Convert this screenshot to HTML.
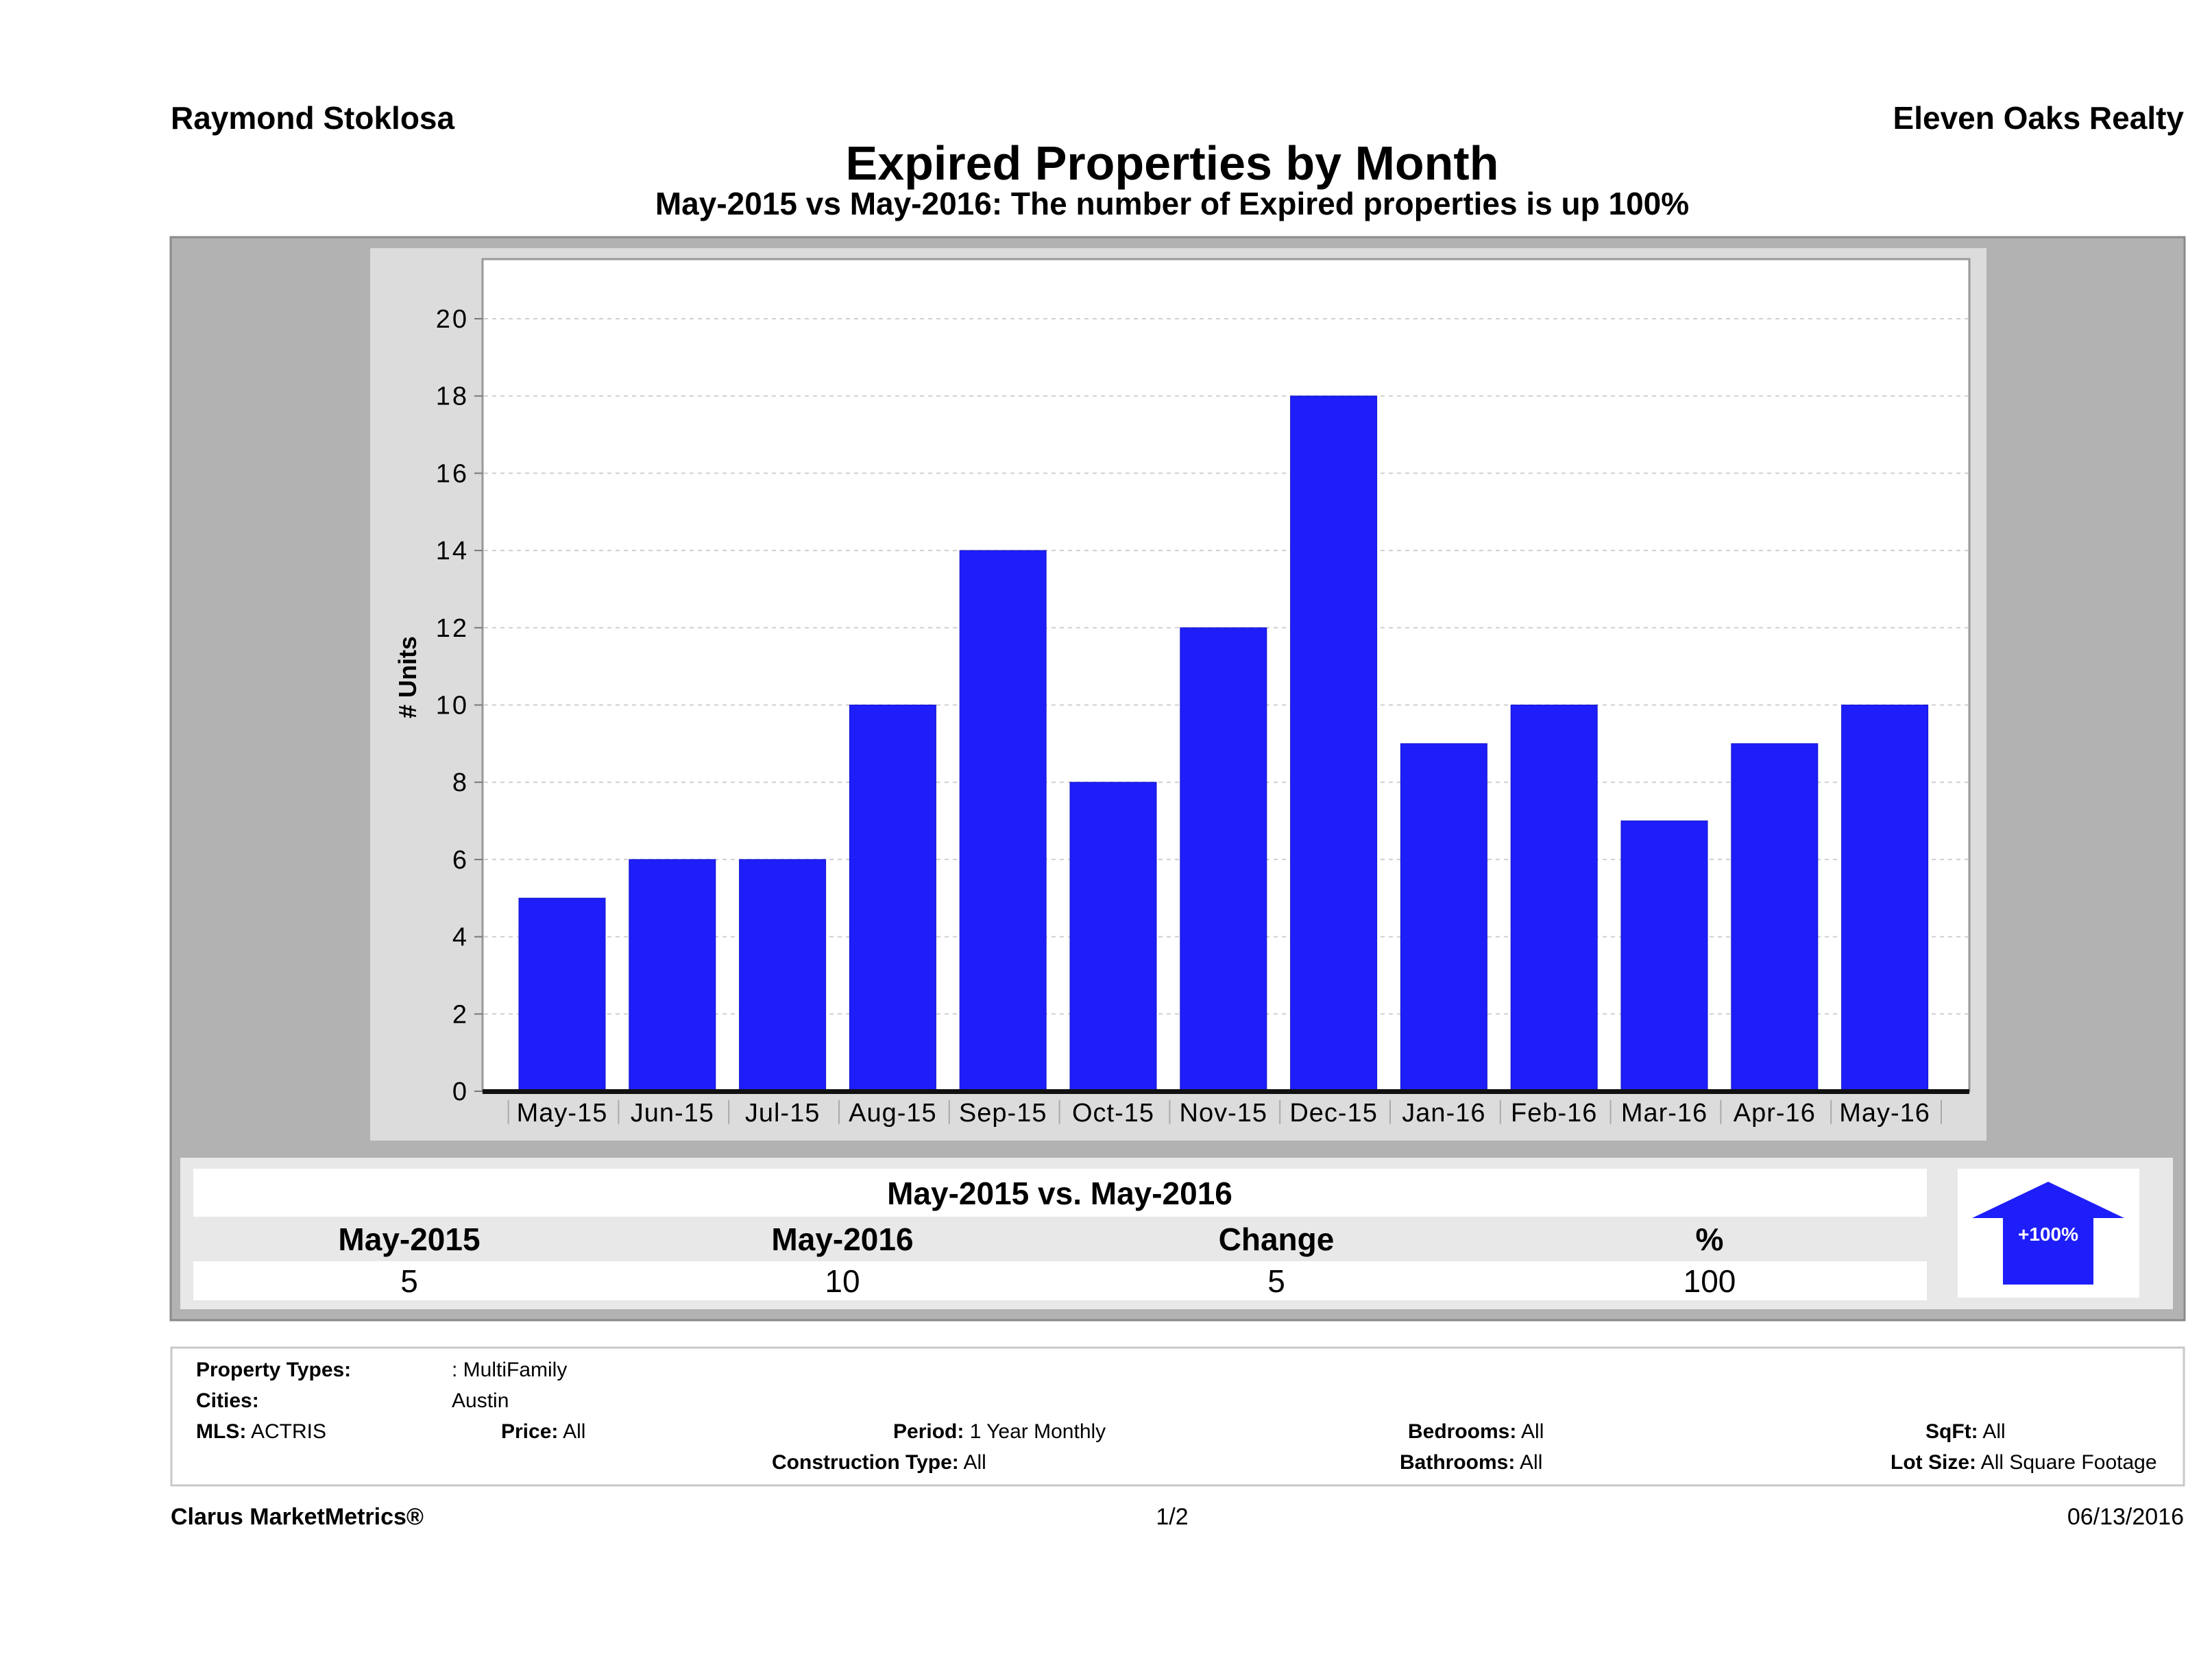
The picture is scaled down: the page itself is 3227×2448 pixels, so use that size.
<!DOCTYPE html>
<html><head><meta charset="utf-8"><style>
html,body{margin:0;padding:0;background:#fff;}
svg{display:block;}
text{font-family:"Liberation Sans Narrow","Liberation Sans",sans-serif;}
</style></head><body>
<svg id="page" width="3227" height="2448" viewBox="0 0 3227 2448" xmlns="http://www.w3.org/2000/svg">
<text x="249" y="188" font-size="46" font-weight="bold">Raymond Stoklosa</text>
<text x="3186" y="188" font-size="46" font-weight="bold" text-anchor="end">Eleven Oaks Realty</text>
<text x="1710" y="262" font-size="70" font-weight="bold" text-anchor="middle">Expired Properties by Month</text>
<text x="1710" y="313" font-size="46" font-weight="bold" text-anchor="middle">May-2015 vs May-2016: The number of Expired  properties is up 100%</text>

<rect x="249" y="346" width="2938" height="1580" fill="#b2b2b2" stroke="#8a8a8a" stroke-width="3"/>
<rect x="540" y="362" width="2358" height="1302" fill="#dcdcdc"/>
<rect x="704" y="378" width="2169" height="1214" fill="#fff" stroke="#999" stroke-width="3"/>
<g id="grid"></g>
<g id="bars"></g>
<g id="yticks"></g>
<g id="xticks"></g>
<rect x="704" y="1589" width="2169" height="7" fill="#111"/>
<text transform="translate(607,988) rotate(-90)" font-size="36" font-weight="bold" text-anchor="middle"># Units</text>

<rect x="263" y="1689" width="2907" height="221" fill="#e8e8e8"/>
<rect x="282" y="1705" width="2529" height="70" fill="#fff"/>
<rect x="282" y="1840" width="2529" height="57" fill="#fff"/>
<text x="1546" y="1757" font-size="46" font-weight="bold" text-anchor="middle">May-2015 vs. May-2016</text>
<g font-size="46" text-anchor="middle">
<text x="597" y="1824" font-weight="bold">May-2015</text>
<text x="1229" y="1824" font-weight="bold">May-2016</text>
<text x="1862" y="1824" font-weight="bold">Change</text>
<text x="2494" y="1824" font-weight="bold">%</text>
<text x="597" y="1885">5</text>
<text x="1229" y="1885">10</text>
<text x="1862" y="1885">5</text>
<text x="2494" y="1885">100</text>
</g>
<rect x="2856" y="1705" width="265" height="188" fill="#fff"/>
<polygon points="2988,1724 3099,1777 3054,1777 3054,1874 2922,1874 2922,1777 2877,1777" fill="#1e1efa"/>
<text x="2988" y="1810" font-size="28" font-weight="bold" fill="#fff" text-anchor="middle">+100%</text>

<rect x="250" y="1966" width="2936" height="201" fill="#fff" stroke="#c8c8c8" stroke-width="3"/>
<g font-size="30">
<text x="286" y="2008" font-weight="bold">Property Types:</text>
<text x="659" y="2008">: MultiFamily</text>
<text x="286" y="2053" font-weight="bold">Cities:</text>
<text x="659" y="2053">Austin</text>
<text x="286" y="2098"><tspan font-weight="bold">MLS:</tspan>   ACTRIS</text>
<text x="731" y="2098"><tspan font-weight="bold">Price:</tspan> All</text>
<text x="1303" y="2098"><tspan font-weight="bold">Period:</tspan> 1 Year Monthly</text>
<text x="1126" y="2143"><tspan font-weight="bold">Construction Type:</tspan> All</text>
<text x="2054" y="2098"><tspan font-weight="bold">Bedrooms:</tspan> All</text>
<text x="2042" y="2143"><tspan font-weight="bold">Bathrooms:</tspan> All</text>
<text x="2809" y="2098"><tspan font-weight="bold">SqFt:</tspan> All</text>
<text x="2758" y="2143"><tspan font-weight="bold">Lot Size:</tspan> All Square Footage</text>
</g>
<text x="249" y="2224" font-size="34" font-weight="bold">Clarus MarketMetrics®</text>
<text x="1710" y="2224" font-size="34" text-anchor="middle">1/2</text>
<text x="3186" y="2224" font-size="34" text-anchor="end">06/13/2016</text>
</svg>
<script>
const categories = ["May-15","Jun-15","Jul-15","Aug-15","Sep-15","Oct-15","Nov-15","Dec-15","Jan-16","Feb-16","Mar-16","Apr-16","May-16"];
const expiredValues = [5,6,6,10,14,8,12,18,9,10,7,9,10];
const yTickValues = [0,2,4,6,8,10,12,14,16,18,20];

const NS = "http://www.w3.org/2000/svg";
const Y0 = 1592, YPER = 56.35, XFIRST = 820, XSTEP = 160.8, BARW = 126;
function yScale(v){ return Y0 - v * YPER; }
function xScale(i){ return XFIRST + i * XSTEP; }
function mk(tag, attrs, parent){ const e = document.createElementNS(NS, tag); for (const k in attrs) e.setAttribute(k, attrs[k]); parent.appendChild(e); return e; }

const grid = document.getElementById('grid'), yt = document.getElementById('yticks');
yTickValues.forEach(v => {
  const y = yScale(v);
  if (v > 0) {
    const g = mk('line', {x1:706, x2:2871, y1:y, y2:y, stroke:'#cfcfcf', 'stroke-width':2, 'stroke-dasharray':'6,6'}, grid);
    
    
  }
  const tk = mk('line', {x1:692, x2:704, y1:y, y2:y, stroke:'#777', 'stroke-width':2}, yt);
  
  
  const t = mk('text', {x:684, y:y+13, 'font-size':38, 'text-anchor':'end', 'letter-spacing':3}, yt);
  t.textContent = v;
  
  
});

const bars = document.getElementById('bars'), xt = document.getElementById('xticks');
categories.forEach((c, i) => {
  const cx = xScale(i), y = yScale(expiredValues[i]);
  const b = mk('rect', {x:cx-BARW/2, y:y, width:BARW, height:Y0-y, fill:'#1e1efa', stroke:'#1414c8', 'stroke-width':1}, bars);
  
  
  const sep = mk('line', {x1:cx-XSTEP/2+2, x2:cx-XSTEP/2+2, y1:1605, y2:1640, stroke:'#aaa', 'stroke-width':2}, xt);
  
  
  const t = mk('text', {x:cx, y:1636, 'font-size':38, 'text-anchor':'middle', 'letter-spacing':1}, xt);
  t.textContent = c;
  
  
});
const last = mk('line', {x1:xScale(categories.length-1)+XSTEP/2+2, x2:xScale(categories.length-1)+XSTEP/2+2, y1:1605, y2:1640, stroke:'#aaa', 'stroke-width':2}, xt);


</script>
</body></html>
